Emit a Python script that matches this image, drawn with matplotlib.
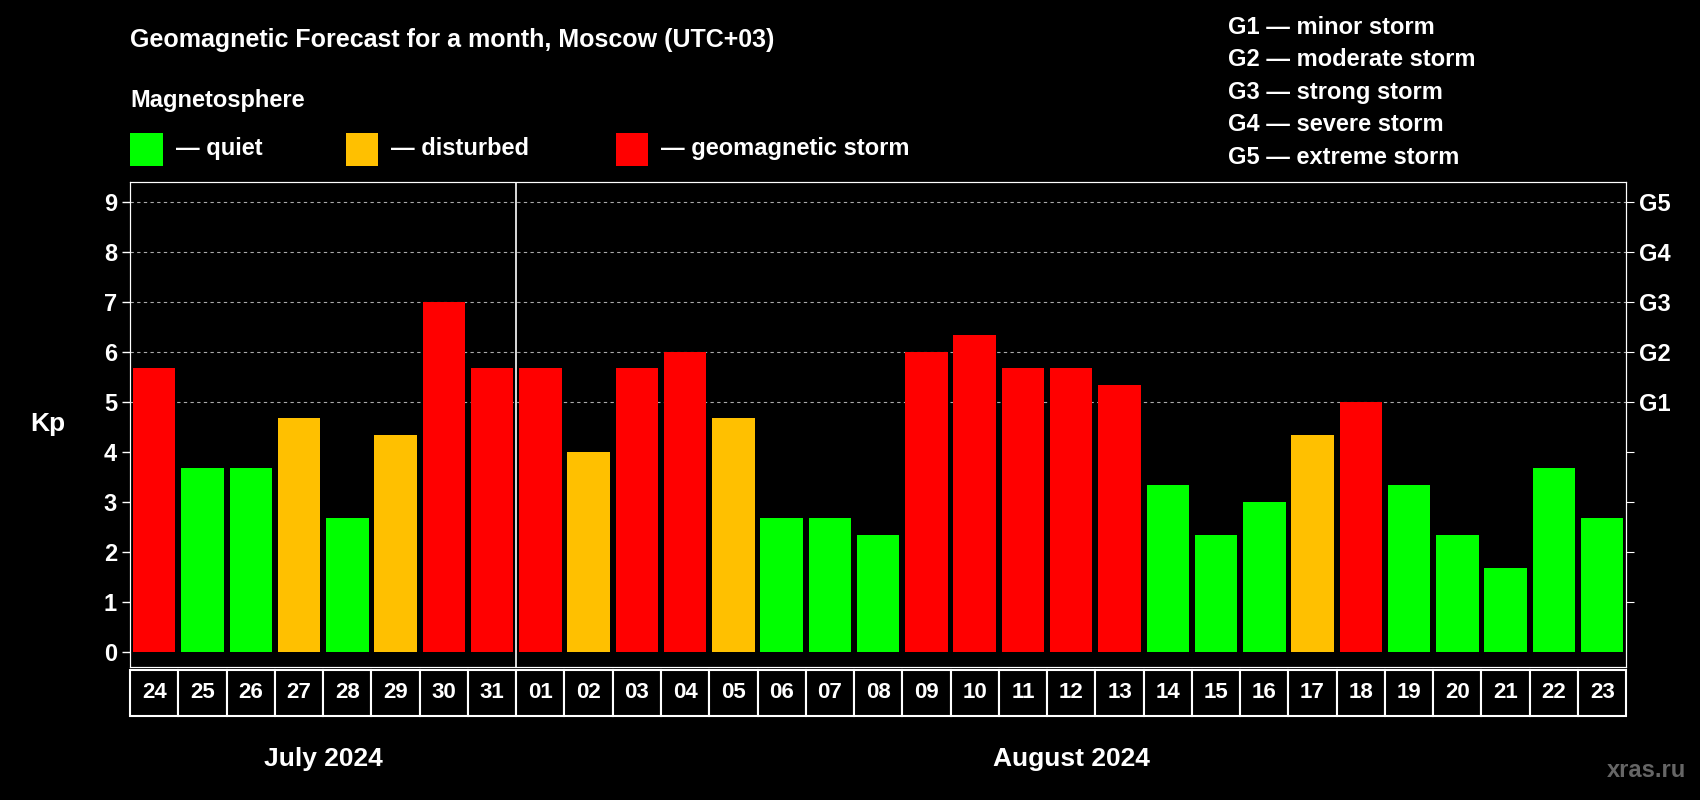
import matplotlib
matplotlib.use("Agg")
import matplotlib.pyplot as plt
from matplotlib.patches import Rectangle
import matplotlib.transforms as mt

days = ["24","25","26","27","28","29","30","31","01","02","03","04","05","06","07","08",
        "09","10","11","12","13","14","15","16","17","18","19","20","21","22","23"]
kp = [5.67,3.67,3.67,4.67,2.67,4.33,7.0,5.67,5.67,4.0,5.67,6.0,4.67,2.67,2.67,2.33,
      6.0,6.33,5.67,5.67,5.33,3.33,2.33,3.0,4.33,5.0,3.33,2.33,1.67,3.67,2.67]
g_labels = ["G1","G2","G3","G4","G5"]
months = ["July 2024","August 2024"]

GREEN, ORANGE, RED = "#00ff00", "#ffc000", "#ff0000"
def col(v):
    return GREEN if v < 4 else (ORANGE if v < 5 else RED)

W, H = 1568, 738
fig = plt.figure(figsize=(17, 8), dpi=100, facecolor="black")
plt.rcParams["font.family"] = "Liberation Sans"
ax = fig.add_axes([120/W, 1-615/H, 1380/W, 447/H], facecolor="black")
x = list(range(len(days)))
ax.set_xlim(-0.5, len(days)-0.5)
ax.set_ylim(-0.3, 9.39)
for y in range(5, 10):
    ax.axhline(y, color="#aaaaaa", ls=(0, (3, 3)), lw=0.8, zorder=0)
ax.bar(x, kp, width=0.88, color=[col(v) for v in kp], zorder=2)
ax.axvline(7.5, color="white", lw=1.2, zorder=3)
for s in ax.spines.values():
    s.set_color("white")
ax.set_xticks([])
ax.set_yticks(range(10))
ax.tick_params(axis="y", colors="white", labelsize=17, length=6, width=1)
for t in ax.get_yticklabels():
    t.set_fontweight("bold")
ax2 = ax.twinx()
ax2.set_ylim(ax.get_ylim())
ax2.set_yticks(range(1, 10))
ax2.set_yticklabels(["", "", "", ""] + g_labels)
ax2.tick_params(axis="y", colors="white", labelsize=17, length=6)
for t in ax2.get_yticklabels():
    t.set_fontweight("bold")
for s in ax2.spines.values():
    s.set_color("white")
ax.text(-0.055, 0.5, "Kp", transform=ax.transAxes, color="white", fontsize=19,
        fontweight="bold", ha="center", va="center")

tr = mt.blended_transform_factory(ax.transData, ax.transAxes)
for i, d in enumerate(days):
    ax.add_patch(Rectangle((i-0.5, -0.101), 1, 0.094, transform=tr, clip_on=False,
                           facecolor="black", edgecolor="white", lw=1.5))
    ax.text(i, -0.054, d, transform=tr, ha="center", va="center", color="white",
            fontsize=16, fontweight="bold")
ax.text(3.5, -0.19, months[0], transform=tr, ha="center", va="center", color="white",
        fontsize=19, fontweight="bold")
ax.text(19, -0.19, months[1], transform=tr, ha="center", va="center", color="white",
        fontsize=19, fontweight="bold")

def ft(px, py, s, size=17, **kw):
    fig.text(px/W, 1-py/H, s, color="white", fontsize=size, fontweight="bold", va="center", **kw)
ft(120, 37, "Geomagnetic Forecast for a month, Moscow (UTC+03)", 18)
ft(120, 93, "Magnetosphere", 17)
for px, c, lab in [(120, GREEN, "— quiet"), (319, ORANGE, "— disturbed"), (568, RED, "— geomagnetic storm")]:
    fig.patches.append(Rectangle((px/W, 1-153/H), 30/W, 30/H, transform=fig.transFigure,
                                 facecolor=c, edgecolor="none"))
    ft(px+42, 137, lab, 17)
for i, s in enumerate(["G1 — minor storm", "G2 — moderate storm", "G3 — strong storm",
                       "G4 — severe storm", "G5 — extreme storm"]):
    ft(1133, 25 + 30*i, s, 17)
fig.text(1555/W, 1-711/H, "xras.ru", color="#666666", fontsize=17, fontweight="bold",
         ha="right", va="center")
fig.savefig("out.png", facecolor="black")
